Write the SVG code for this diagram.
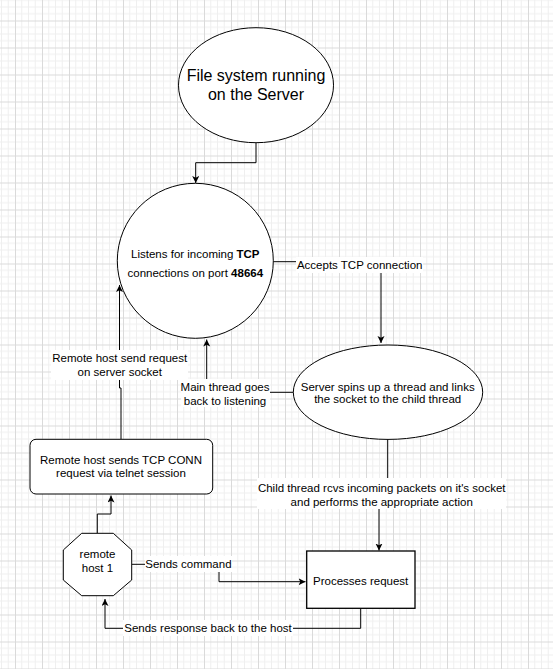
<svg xmlns="http://www.w3.org/2000/svg" width="553" height="669" viewBox="0 0 553 669">
<defs>
<pattern id="grid" patternUnits="userSpaceOnUse" x="15" y="20.5" width="27" height="27">
<path d="M6.75,0 V27 M13.5,0 V27 M20.25,0 V27 M0,6.75 H27 M0,13.5 H27 M0,20.25 H27" stroke="#efefef" stroke-width="1" fill="none"/>
<path d="M0.5,0 V27 M0,0.5 H27" stroke="#dadada" stroke-width="1" fill="none"/>
</pattern>
<marker id="arr" markerUnits="userSpaceOnUse" markerWidth="8" markerHeight="8" refX="7" refY="3.5" orient="auto">
<path d="M0,0 L7,3.5 L0,7 L1.8,3.5 Z" fill="#000"/>
</marker>
<style>
.shape{fill:#fff;stroke:#000;stroke-width:1}
.edge{fill:none;stroke:#000;stroke-width:1;marker-end:url(#arr)}
.t{font-family:"Liberation Sans",Arial,sans-serif;font-size:11.5px;fill:#000;text-anchor:middle}
.big{font-size:16px}
.bg{fill:#fff}
</style>
</defs>
<rect x="0" y="0" width="553" height="669" fill="#fff"/>
<rect x="0" y="0" width="553" height="669" fill="url(#grid)"/>

<g id="connectors">
<path class="edge" d="M256,143 V162.7 H195.7 V183"/>
<path class="edge" d="M273.3,261.7 H381 V343"/>
<path class="edge" d="M293.3,392.3 H206.7 V339.5"/>
<path class="edge" d="M121,439.3 V388 H119.5 V285"/>
<path class="edge" d="M97.3,533.3 V514 H111 V495.5"/>
<path class="edge" d="M131.7,564.3 H219 V581.7 H305.5"/>
<path class="edge" d="M387.7,439.3 V495 H379 V550.5"/>
<path class="edge" d="M360.7,608.3 V628.3 H105 V599"/>
<g id="edge-labels">
<rect class="bg" x="296" y="257" width="127" height="16"/>
<text class="t" x="359.7" y="269.3">Accepts TCP connection</text>
<rect class="bg" x="181" y="379" width="89" height="28"/>
<text class="t" x="225" y="390.7">Main thread goes</text>
<text class="t" x="225" y="404.7">back to listening</text>
<rect class="bg" x="51" y="350" width="137" height="30"/>
<text class="t" x="119.7" y="362.3">Remote host send request</text>
<text class="t" x="119.7" y="375.7">on server socket</text>
<rect class="bg" x="145" y="556" width="87" height="16"/>
<text class="t" x="188.4" y="568.3">Sends command</text>
<rect class="bg" x="257" y="478" width="249" height="31"/>
<text class="t" x="381.7" y="491.7">Child thread rcvs incoming packets on it's socket</text>
<text class="t" x="381.7" y="506.3">and performs the appropriate action</text>
<rect class="bg" x="123" y="620" width="170" height="16"/>
<text class="t" x="208" y="632.3">Sends response back to the host</text>
</g>
</g>

<g id="fs-server">
<ellipse class="shape" cx="256" cy="85.2" rx="77.5" ry="57.5"/>
<text class="t big" x="256" y="81">File system running</text>
<text class="t big" x="256" y="100.3">on the Server</text>
</g>
<g id="listen">
<ellipse class="shape" cx="195.3" cy="260.8" rx="78" ry="77.5"/>
<text class="t" x="195.3" y="257.5">Listens for incoming <tspan font-weight="bold">TCP</tspan></text>
<text class="t" x="195.3" y="276.5">connections on port <tspan font-weight="bold">48664</tspan></text>
</g>
<g id="spawn">
<ellipse class="shape" cx="388" cy="392.2" rx="94.7" ry="47.2"/>
<text class="t" x="387.7" y="390.7">Server spins up a thread and links</text>
<text class="t" x="387.7" y="403.3">the socket to the child thread</text>
</g>
<g id="telnet">
<rect class="shape" x="30" y="439.3" width="182.7" height="54.7" rx="6" ry="6"/>
<text class="t" x="121" y="464">Remote host sends TCP CONN</text>
<text class="t" x="121" y="477.3">request via telnet session</text>
</g>
<g id="host1">
<polygon class="shape" points="81.7,533.3 113.3,533.3 131.7,550 131.7,580 113.3,595.7 81.7,595.7 63.3,580 63.3,550"/>
<text class="t" x="97.5" y="558.3">remote</text>
<text class="t" x="97.5" y="572.3">host 1</text>
</g>
<g id="process">
<rect class="shape" x="306.7" y="551" width="108.3" height="57.3" style="stroke-width:1.3"/>
<text class="t" x="360.7" y="585">Processes request</text>
</g>
</svg>
